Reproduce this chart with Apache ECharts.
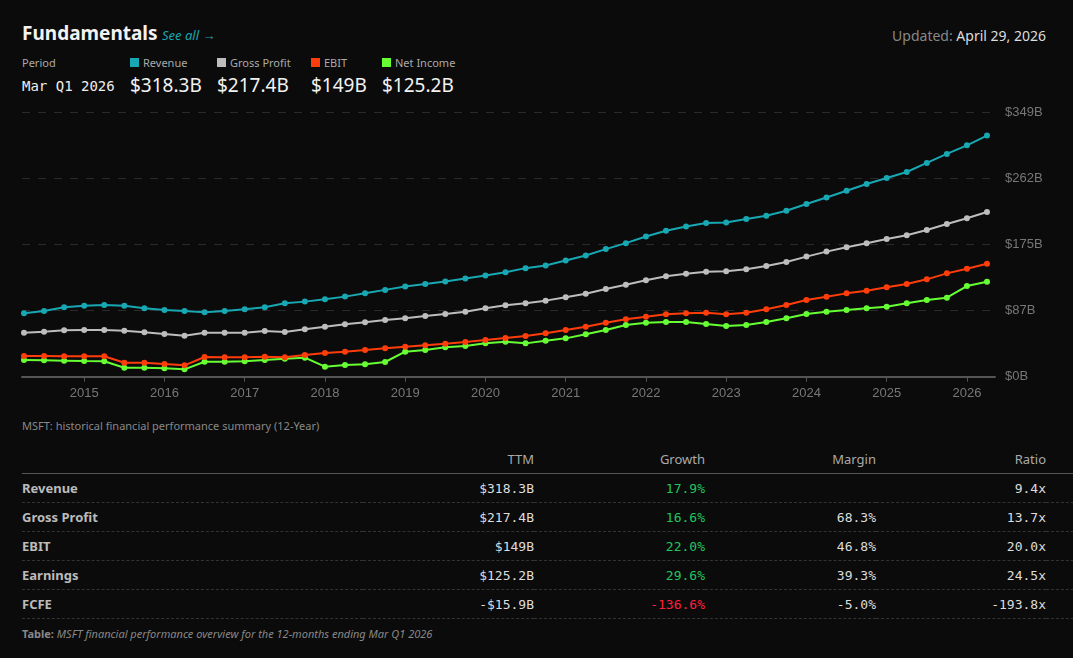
<!DOCTYPE html>
<html><head><meta charset="utf-8">
<script src="https://cdn.jsdelivr.net/npm/echarts@6/dist/echarts.min.js"></script>
<style>
body{margin:0;background:#0b0b0b;color:#ddd;font-family:"Noto Sans","Open Sans",sans-serif;width:1073px;height:658px;position:relative;overflow:hidden}
.abs{position:absolute;white-space:nowrap}
.mono{font-family:"DejaVu Sans Mono",monospace}
#chart{position:absolute;left:0;top:100px;width:1073px;height:310px}
table{position:absolute;left:22px;top:445px;width:1024px;border-collapse:collapse;font-size:13px;table-layout:fixed}
td,th{height:28px;padding:0;text-align:right;border-bottom:1px dashed #333}
th{font-weight:normal;color:#aaa;border-bottom:1px solid #555}
td{font-family:"DejaVu Sans Mono",monospace;color:#ddd}
td:first-child,th:first-child{text-align:left;font-weight:bold;color:#bbb;font-family:"Noto Sans","Open Sans",sans-serif}
.sq{display:inline-block;width:9px;height:9px;margin-right:4px}
</style></head><body>
<div class="abs" style="left:22px;top:20px;font-size:19px;font-weight:bold;color:#f2f2f2">Fundamentals</div>
<div class="abs" style="left:162px;top:26px;font-size:13px;font-style:italic;color:#1aa6b0">See all →</div>
<div class="abs" style="right:27px;top:26px;font-size:14px;color:#888">Updated: <span style="color:#ddd">April 29, 2026</span></div>
<div class="abs" style="left:22px;top:55px;font-size:11px;color:#aaa">Period</div>
<div class="abs mono" style="left:22px;top:78px;font-size:14px;color:#eee">Mar Q1 2026</div>
<div id="legend"></div>
<div id="chart"></div>
<div class="abs" style="left:22px;top:418px;font-size:11px;color:#888">MSFT: historical financial performance summary (12-Year)</div>
<table id="tbl"><colgroup><col style="width:341px"><col style="width:171px"><col style="width:171px"><col style="width:171px"><col style="width:170px"><col style="width:171px"></colgroup></table>
<div class="abs" style="left:22px;top:626px;font-size:11px;color:#888"><b>Table:</b> <i>MSFT financial performance overview for the 12-months ending Mar Q1 2026</i></div>
<script>
var seriesNames = ['Revenue', 'Gross Profit', 'EBIT', 'Net Income'];
var seriesColors = ['#17a8b3', '#bdbdbd', '#ff3d0a', '#66ff33'];
var latestLabels = ['$318.3B', '$217.4B', '$149B', '$125.2B'];
var startYear = 2014.25;
var revenue = [83.8,86.8,91.7,93.8,94.8,93.8,90.4,88.2,86.8,85.1,86.8,89.1,91.7,97,99.1,102.3,105.7,110.2,114.6,119,122.5,125.6,129.5,133.5,
	138,143.3,146.7,153.3,159.9,168.4,176.3,185.1,192.6,198.3,202.8,203.6,208.1,212.4,219,227.9,236.6,245.5,254.3,262.3,270.2,282.2,294.1,305.4,318.3];
var grossProfit = [58.1,59.4,61.2,61.6,61.6,60.7,58.6,56.4,54.1,58.1,58.1,58.1,60.3,59,62.6,66,69.2,71.8,74.8,77.1,80.1,82.8,85.8,90.3,
	94.2,96.9,100.4,104.8,109.6,115.8,121.5,127.2,132.5,136,138.6,139.1,141.8,146.2,151.5,158.5,165.1,170.8,176.1,181.8,186.6,193.7,201.6,209.1,217.4];
var ebit = [27.3,27.3,26.9,26.9,26.9,18.5,18.5,16.8,15,26,25.6,25.6,26.4,25.6,28.6,31.3,33,35.2,37.4,39.6,41.4,43.6,45.8,48.4,
	51,53.7,57.3,61.6,66,71.3,75.7,79.2,82.3,83.7,84.5,82.3,84.5,88.9,94.6,101.2,105.6,110,113.5,118,122.4,128.5,136.4,142.6,149];
var netIncome = [22,21.6,21.2,20.7,20.3,11.9,11.9,11,9.7,19.8,19.8,20.3,22,23.8,25.1,13.2,15.4,16.3,19.4,33,35.2,38.8,40.5,44,
	46.2,44,47.6,50.6,55.9,61.6,68.2,71.3,72.2,72.2,69.6,66.9,68.2,72.2,77.1,82.8,85.8,88,90.3,92.4,96.9,101.2,104.3,119.7,125.2];
var yearTicks = [2015,2016,2017,2018,2019,2020,2021,2022,2023,2024,2025,2026];
var tableHeader = ['', 'TTM', 'Growth', 'Margin', 'Ratio', 'Yield'];
var tableRows = [
	['Revenue', '$318.3B', '17.9%', '', '9.4x', ''],
	['Gross Profit', '$217.4B', '16.6%', '68.3%', '13.7x', ''],
	['EBIT', '$149B', '22.0%', '46.8%', '20.0x', '5.0%'],
	['Earnings', '$125.2B', '29.6%', '39.3%', '24.5x', '4.1%'],
	['FCFE', '-$15.9B', '-136.6%', '-5.0%', '-193.8x', '-0.5%']
];

// legend header
var legX = [130, 217, 311, 382];
var lg = '';
for (var i = 0; i < 4; i++){
	lg += '<div class="abs" style="left:'+legX[i]+'px;top:55px;font-size:11px;color:#aaa"><span class="sq" style="background:'+seriesColors[i]+'"></span>'+seriesNames[i]+'</div>';
	lg += '<div class="abs" style="left:'+legX[i]+'px;top:72px;font-size:19px;color:#f2f2f2">'+latestLabels[i]+'</div>';
}
document.getElementById('legend').innerHTML = lg;

// table
var h = '<tr>';
for (var c = 0; c < tableHeader.length; c++) h += '<th>'+tableHeader[c]+'</th>';
h += '</tr>';
tableRows.forEach(function(r){
	h += '<tr>';
	r.forEach(function(v, c){
		var st = '';
		if (c == 2) st = v.charAt(0) == '-' ? 'color:#ff1f3d' : 'color:#22c55e';
		h += '<td style="'+st+'">'+v+'</td>';
	});
	h += '</tr>';
});
document.getElementById('tbl').insertAdjacentHTML('beforeend', h);

function pts(arr){
	return arr.map(function(v, i){ return [startYear + 0.25*i, v]; });
}
var all = [revenue, grossProfit, ebit, netIncome];
var series = [];
for (var s = 3; s >= 0; s--){
	series.push({
		name: seriesNames[s], type: 'line', data: pts(all[s]),
		symbol: 'circle', symbolSize: 6, showSymbol: true,
		lineStyle: {width: 2, color: seriesColors[s]},
		itemStyle: {color: seriesColors[s]},
		animation: false
	});
}
var chart = echarts.init(document.getElementById('chart'));
chart.setOption({
	backgroundColor: 'transparent',
	grid: {left: 22, right: 78, top: 12.3, bottom: 33.3},
	xAxis: {
		type: 'value', min: 2014.225, max: 2026.35,
		axisLine: {show: true, lineStyle: {color: '#555', width: 2}},
		axisTick: {show: true, customValues: yearTicks, length: 5, lineStyle: {color: '#555'}},
		axisLabel: {customValues: yearTicks, color: '#777', fontSize: 13, margin: 10, formatter: function(v){ return String(Math.round(v)); }},
		splitLine: {show: false}
	},
	yAxis: {
		type: 'value', min: 0, max: 349, interval: 87.25, position: 'right',
		axisLabel: {color: '#777', fontSize: 13, margin: 10, formatter: function(v){ return '$' + Math.round(v) + 'B'; }},
		axisLine: {show: false}, axisTick: {show: false},
		splitLine: {lineStyle: {color: '#2a2a2a', type: [8, 8]}}
	},
	series: series
});
</script>
</body></html>
